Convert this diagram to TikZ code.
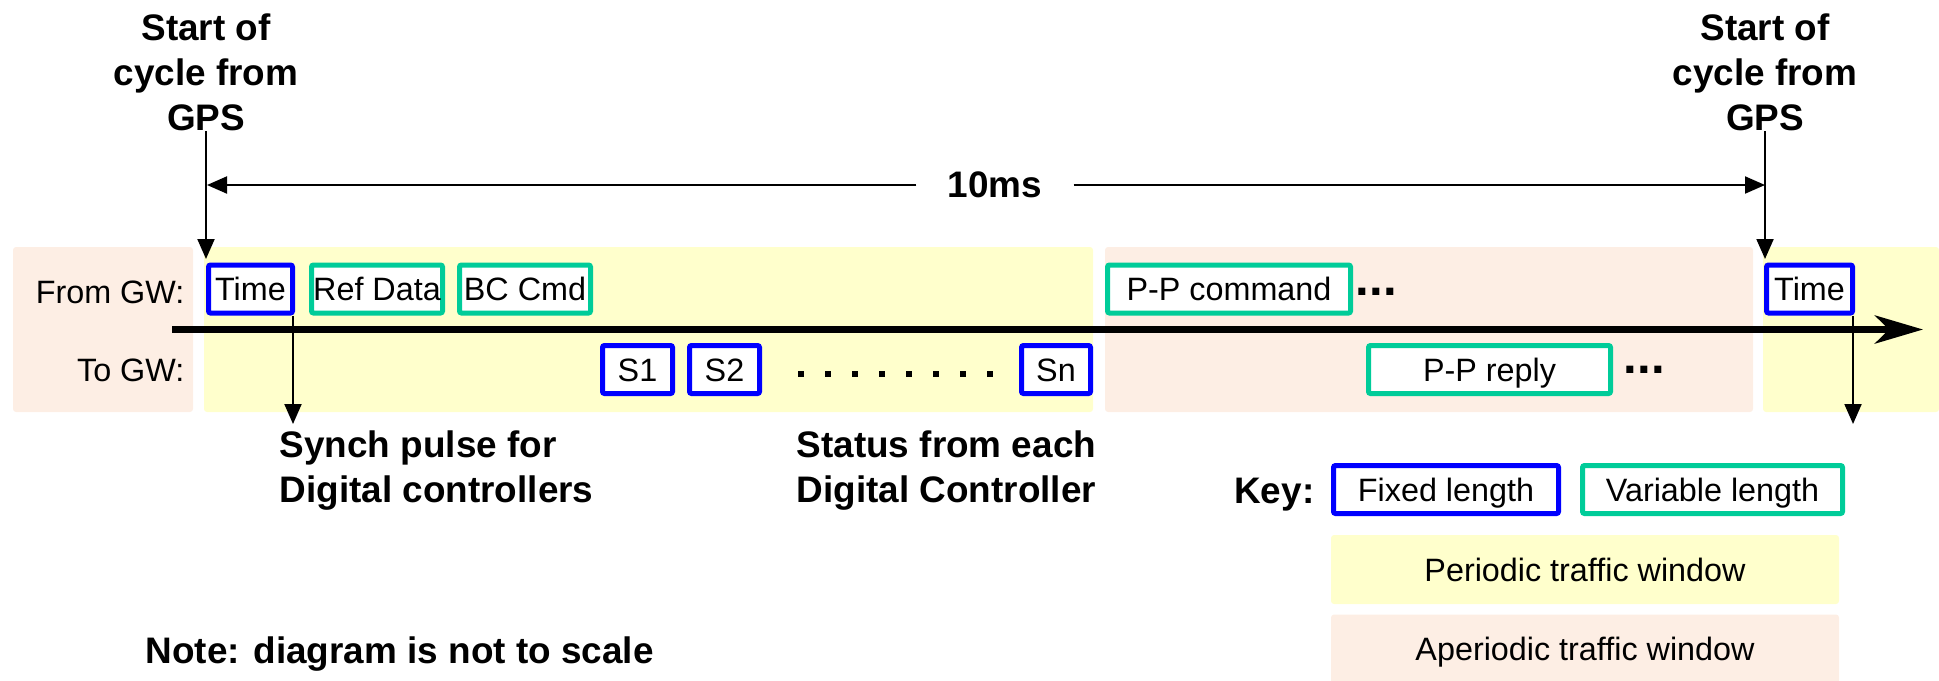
\documentclass[tikz,border=0pt]{standalone}
\usepackage{fontspec}
\setmainfont{Liberation Sans}
\usetikzlibrary{arrows.meta}
\definecolor{fixblue}{RGB}{0,0,255}
\definecolor{vargreen}{RGB}{0,204,153}
\definecolor{perbg}{RGB}{255,255,204}
\definecolor{aperbg}{RGB}{253,238,228}
\begin{document}
\begin{tikzpicture}[x=0.1mm,y=-0.1mm,
  regtext/.style={font=\fontsize{9.2}{11}\selectfont},
  boldtext/.style={font=\fontsize{10.5}{12.8}\selectfont\bfseries},
  slot/.style={draw, line width=0.5mm, fill=white, rounded corners=0.2mm, regtext,
    text height=2.3mm, text depth=0mm, inner sep=0pt, minimum height=4.8mm},
  fixedslot/.style={slot, draw=fixblue},
  varslot/.style={slot, draw=vargreen},
  window/.style={regtext, rounded corners=0.3mm, minimum width=50.8mm, minimum height=6.9mm,
    text height=2.3mm, text depth=0mm, inner sep=0pt},
  thinarrow/.style={line width=0.2mm, -{Triangle[length=2mm,width=1.7mm]}},
  moredots/.style={font=\fontsize{14}{16}\selectfont\bfseries, anchor=base west, inner sep=0pt},
]
\useasboundingbox (0,0) rectangle (1939,680);

% traffic windows (background)
\fill[aperbg, rounded corners=0.3mm] (13,247) rectangle (193,412);
\fill[perbg, rounded corners=0.3mm] (204,247) rectangle (1093,412);
\fill[aperbg, rounded corners=0.3mm] (1105,247) rectangle (1753,412);
\fill[perbg, rounded corners=0.3mm] (1763,247) rectangle (1939,412);

% time line
\coordinate (tlS) at (172,329.5);
\coordinate (tlE) at (1923,329.5);
\draw[line width=0.7mm, -{Stealth[length=4.8mm,width=2.8mm,inset=1.4mm]}] (tlS) -- (tlE);

% row labels
\node[regtext, anchor=base east, inner sep=0pt] (fromgw) at (185,303) {From GW:};
\node[regtext, anchor=base east, inner sep=0pt] (togw) at (185,381.5) {To GW:};

% row 1 (from GW)
\node[fixedslot, minimum width=8.4mm] (timeL) at (250.5,289) {Time};
\node[varslot, minimum width=13.1mm] (refdata) at (377,289) {Ref Data};
\node[varslot, minimum width=13.1mm] (bccmd) at (525,289) {BC Cmd};
\node[varslot, minimum width=24.3mm] (ppcmd) at (1229,289) {P-P command};
\node[moredots] (moreA) at (1355,295) {...};
\node[fixedslot, minimum width=8.6mm] (timeR) at (1809.5,289) {Time};

% row 2 (to GW)
\node[fixedslot, minimum width=7.0mm] (s1) at (637.5,369.5) {S1};
\node[fixedslot, minimum width=7.0mm] (s2) at (724.5,369.5) {S2};
\foreach \i in {0,...,7} \fill (798+27*\i,371) rectangle ++(6,6);
\node[fixedslot, minimum width=6.9mm] (sn) at (1056,369.5) {Sn};
\node[varslot, minimum width=24.2mm] (ppreply) at (1489.5,369.5) {P-P reply};
\node[moredots] (moreB) at (1623,373) {...};

% start-of-cycle labels and arrows
\node[boldtext, align=center, inner sep=0pt] (gpsL) at (206,72) {Start of\\cycle from\\GPS};
\node[boldtext, align=center, inner sep=0pt] (gpsR) at (1765,72) {Start of\\cycle from\\GPS};
\coordinate (gpsLtip) at (206,259);
\coordinate (gpsRtip) at (1765,259);
\draw[thinarrow] (gpsL.south) -- (gpsLtip);
\draw[thinarrow] (gpsR.south) -- (gpsRtip);

% 10 ms span
\coordinate (msL) at (207,185);
\coordinate (msR) at (1765,185);
\node[boldtext, minimum width=15.6mm, inner sep=0pt] (ms) at (995,185) {10ms};
\draw[thinarrow] (ms) -- (msL);
\draw[thinarrow] (ms) -- (msR);

% synch pulses
\coordinate (synA) at (293,424);
\coordinate (synB) at (1853,424);
\draw[thinarrow] (timeL.south -| synA) -- (synA);
\draw[thinarrow] (timeR.south -| synB) -- (synB);

% annotations
\node[boldtext, align=left, anchor=west, inner sep=0pt] (synch) at (279,471) {Synch pulse for\\Digital controllers};
\node[boldtext, align=left, anchor=west, inner sep=0pt] (status) at (796,471) {Status from each\\Digital Controller};
\node[boldtext, anchor=base west, inner sep=0pt] (note) at (145,663) {Note: diagram is not to scale};

% key
\node[boldtext, anchor=base east, inner sep=0pt] (key) at (1315,503) {Key:};
\node[fixedslot, minimum width=22.5mm] (fixed) at (1446,489.5) {Fixed length};
\node[varslot, minimum width=26.0mm] (var) at (1712.5,489.5) {Variable length};
\node[window, fill=perbg] (perwin) at (1585,569.5) {Periodic traffic window};
\node[window, fill=aperbg] (aperwin) at (1585,649) {Aperiodic traffic window};
\end{tikzpicture}
\end{document}
